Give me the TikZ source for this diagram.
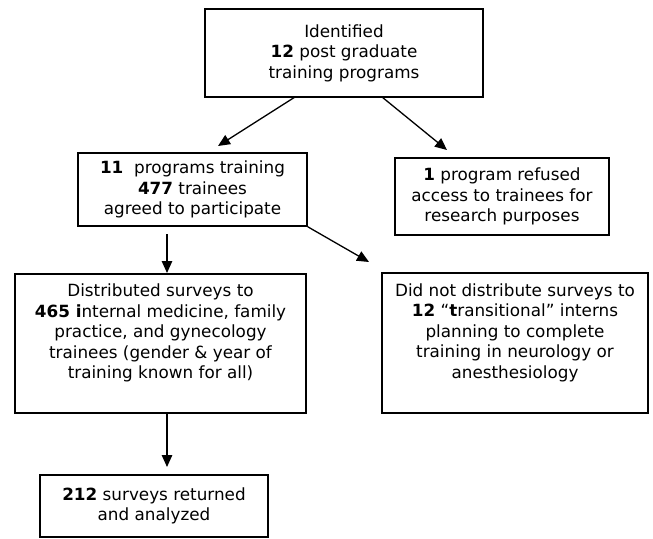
\documentclass[tikz,border=0pt]{standalone}
\usepackage{fontspec}
\setmainfont{DejaVu Sans}
\usetikzlibrary{arrows.meta}

\newcommand{\gapbelow}{\rule[-24pt]{0pt}{0pt}}

\begin{document}
\begin{tikzpicture}[x=1pt, y=-1pt,
		box/.style={draw, line width=1.6pt, align=center, inner sep=0pt,
				font=\fontsize{16.8}{20.5}\selectfont},
		flow/.style={line width=1.3pt, -{Triangle[length=12pt, width=10.5pt]}}]
		\useasboundingbox (0, 0) rectangle (653, 538);

		\node[box, minimum width=278pt, minimum height=88pt] (ident) at (344, 53)
		{Identified\\ \textbf{12} post graduate\\ training programs};
		\node[box, minimum width=229pt, minimum height=73pt] (prog) at (192.5, 189.5)
		{\textbf{11}\ \ programs training\\ \textbf{477} trainees\\ agreed to participate};
		\node[box, minimum width=214pt, minimum height=77pt] (refused) at (502, 196.5)
		{\textbf{1} program refused\\ access to trainees for\\ research purposes};
		\node[box, minimum width=291pt, minimum height=139pt] (dist) at (160.5, 343.5)
		{Distributed surveys to\\ \textbf{465 i}nternal medicine, family\\
			practice, and gynecology\\ trainees (gender \& year of\\
			training known for all)\gapbelow};
		\node[box, minimum width=266pt, minimum height=140pt] (notdist) at (515, 343)
		{Did not distribute surveys to\\ \textbf{12} “\textbf{t}ransitional” interns\\
			planning to complete\\ training in neurology or\\
			anesthesiology\gapbelow};
		\node[box, minimum width=228pt, minimum height=62pt] (returned) at (154, 506)
		{\textbf{212} surveys returned\\ and analyzed};

		% free ends of the arrows
		\coordinate (ident-l) at (295, 97);
		\coordinate (ident-r) at (382, 97);
		\coordinate (prog-tip) at (218, 146);
		\coordinate (refused-tip) at (447, 150);
		\coordinate (prog-down) at (167, 234);
		\coordinate (dist-tip) at (167, 273);
		\coordinate (notdist-tip) at (369, 262);
		\coordinate (returned-tip) at (167, 467);

		\draw[flow] (ident-l) -- (prog-tip);
		\draw[flow] (ident-r) -- (refused-tip);
		\draw[flow] (prog-down) -- (dist-tip);
		\draw[flow] (prog.south east) -- (notdist-tip);
		\draw[flow] (dist.south -| returned-tip) -- (returned-tip);
	\end{tikzpicture}
\end{document}
